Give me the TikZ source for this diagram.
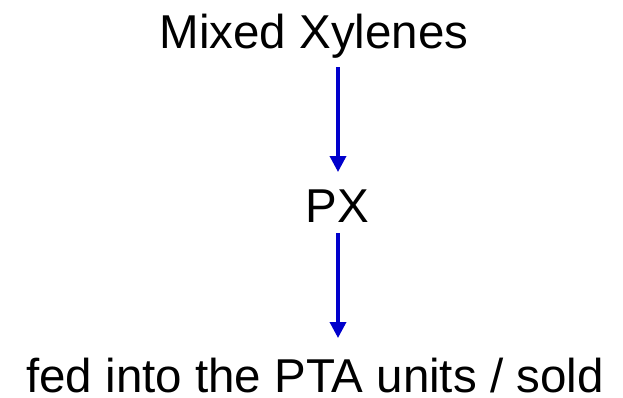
\documentclass[tikz,border=0pt]{standalone}
\usepackage{fontspec}
\setmainfont{Liberation Sans}
\usetikzlibrary{arrows.meta}
\definecolor{arrblue}{RGB}{0,0,204}
\begin{document}
\begin{tikzpicture}[x=1pt,y=1pt,
  lbl/.style={inner sep=0pt,anchor=base,font=\fontsize{47.5}{56}\selectfont},
  arr/.style={draw=arrblue,line width=3.5pt,-{Triangle[width=16pt,length=16pt]}}]
\useasboundingbox[fill=white] (0,0) rectangle (623,-397);
\node[lbl] (mx) at (314,-48) {Mixed Xylenes};
\node[lbl] (px) at (337,-222) {PX};
\node[lbl] (fed) at (315,-392) {fed into the PTA units / sold};
\coordinate (a1s) at (338,-67);
\coordinate (a1e) at (338,-172);
\coordinate (a2s) at (338,-233);
\coordinate (a2e) at (338,-338);
\draw[arr] (a1s) -- (a1e);
\draw[arr] (a2s) -- (a2e);
\end{tikzpicture}
\end{document}
